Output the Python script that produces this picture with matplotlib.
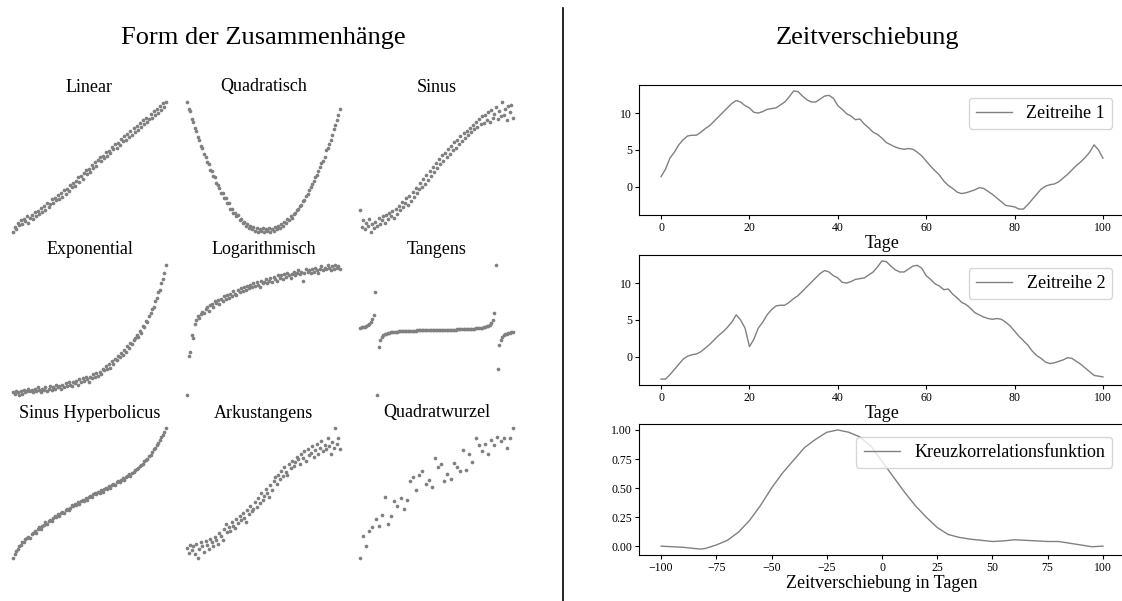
import numpy as np
import matplotlib
matplotlib.use("Agg")
import matplotlib.pyplot as plt
from matplotlib.lines import Line2D

plt.rcParams['font.family'] = ['Liberation Serif', 'DejaVu Serif']

# --- left block: shapes of relationships (y in 0..100, x = point index) ---
titel_formen = ["Linear", "Quadratisch", "Sinus",
                "Exponential", "Logarithmisch", "Tangens",
                "Sinus Hyperbolicus", "Arkustangens", "Quadratwurzel"]

linear = [1, 5, 3, 8, 6, 10, 7, 11, 9, 13, 8, 12, 14, 11, 16, 13, 17, 15, 19, 16,
          21, 18, 23, 20, 22, 26, 23, 27, 25, 29, 26, 31, 28, 33, 30, 34, 32, 37, 35, 38,
          36, 40, 43, 39, 44, 41, 46, 48, 45, 49, 47, 52, 50, 54, 51, 56, 58, 55, 59, 57,
          62, 59, 63, 61, 66, 64, 68, 65, 69, 67, 72, 70, 74, 71, 76, 73, 78, 75, 80, 77,
          82, 79, 84, 81, 86, 83, 88, 85, 87, 91, 88, 93, 90, 95, 92, 97, 94, 99, 96, 100]

quadratisch = [100, 95, 93, 87, 85, 80, 78, 73, 71, 66, 65, 60, 58, 54, 52, 48, 47, 43, 42, 38,
               36, 34, 30, 30, 26, 26, 22, 22, 18, 18, 15, 15, 12, 13, 9, 10, 7, 8, 5, 6,
               3, 5, 2, 4, 1, 3, 0, 2, 1, 3, 0, 2, 1, 3, 0, 2, 1, 4, 2, 5,
               3, 6, 5, 8, 7, 10, 9, 12, 11, 14, 15, 17, 18, 20, 21, 24, 25, 28, 29, 32,
               35, 37, 39, 42, 44, 47, 50, 53, 55, 58, 63, 65, 68, 71, 75, 79, 82, 86, 90, 95]

sinus = [17, 4, 9, 2, 7, 5, 10, 0, 6, 3, 8, 5, 11, 6, 9, 12, 7, 13, 10, 15,
         12, 16, 11, 18, 14, 20, 17, 23, 19, 22, 26, 21, 28, 24, 31, 27, 34, 30, 33, 38,
         35, 41, 37, 44, 40, 47, 43, 50, 46, 53, 49, 56, 52, 59, 55, 61, 58, 64, 60, 66,
         63, 69, 65, 71, 68, 74, 70, 76, 72, 78, 75, 80, 77, 82, 79, 85, 81, 87, 83, 89,
         84, 90, 86, 92, 85, 94, 88, 91, 96, 87, 93, 89, 100, 90, 95, 86, 97, 92, 98, 88]

exponential = [2, 1, 3, 2, 0, 3, 1, 4, 2, 3, 5, 3, 4, 2, 5, 3, 6, 4, 2, 5,
               4, 6, 3, 5, 7, 4, 6, 5, 8, 6, 7, 5, 8, 6, 9, 7, 10, 8, 7, 10,
               9, 11, 8, 12, 10, 13, 11, 14, 12, 10, 14, 13, 16, 14, 17, 15, 18, 16, 20, 19,
               22, 20, 24, 21, 26, 24, 28, 27, 30, 29, 32, 31, 35, 33, 38, 36, 40, 39, 42, 44,
               46, 45, 49, 48, 53, 52, 57, 56, 61, 63, 66, 68, 72, 75, 79, 81, 86, 89, 94, 100]

logarithmisch = [0, 30, 33, 46, 44, 55, 58, 61, 59, 62, 64, 63, 66, 68, 65, 69, 70, 68, 72, 71,
                 73, 70, 74, 72, 76, 74, 77, 75, 78, 76, 80, 78, 77, 81, 79, 82, 80, 83, 81, 84,
                 82, 85, 83, 86, 84, 87, 85, 83, 88, 86, 87, 89, 86, 88, 90, 87, 91, 89, 88, 92,
                 90, 92, 89, 93, 91, 94, 92, 90, 93, 95, 92, 94, 96, 93, 95, 88, 94, 97, 95, 96,
                 94, 97, 95, 98, 96, 94, 97, 99, 96, 98, 97, 100, 98, 96, 99, 97, 100, 98, 99, 97]

tangens = [51.6, 51.8, 52.1, 52.4, 52.9, 53.5, 54.4, 55.8, 58.0, 61.5, 79.0,
           0.0, 36.5, 42.0, 44.5, 45.8, 46.6, 47.1, 47.5, 47.8, 48.0,
           48.2, 48.4, 48.5, 48.6, 48.7, 48.8, 48.9, 49.0, 49.05, 49.1,
           49.15, 49.2, 49.25, 49.3, 49.35, 49.4, 49.45, 49.5, 49.52, 49.55,
           49.58, 49.61, 49.64, 49.67, 49.7, 49.72, 49.74, 49.76, 49.78, 49.82,
           49.84, 49.86, 49.88, 49.9, 49.93, 49.96, 49.99, 50.02, 50.05, 50.08,
           50.1, 50.15, 50.2, 50.25, 50.3, 50.35, 50.4, 50.45, 50.5, 50.55,
           50.6, 50.7, 50.8, 50.9, 51.0, 51.1, 51.2, 51.4, 51.6, 51.8,
           52.1, 52.5, 53.0, 53.8, 55.1, 57.6, 63.1, 99.6,
           20.0, 38.0, 42.5, 44.6, 45.8, 46.6, 47.1, 47.5, 47.8, 48.0, 48.2]

sinus_hyp = [2, 5, 7, 9, 11, 12, 14, 14, 16, 17, 18, 17, 20, 21, 22, 21, 24, 25, 24, 26,
             27, 29, 28, 30, 31, 30, 32, 34, 33, 35, 34, 36, 37, 36, 38, 39, 38, 40, 42, 41,
             43, 42, 44, 43, 45, 46, 45, 47, 46, 48, 49, 48, 50, 51, 50, 52, 51, 53, 52, 54,
             55, 54, 56, 55, 57, 58, 57, 59, 60, 59, 61, 62, 61, 63, 64, 65, 64, 66, 67, 68,
             69, 70, 71, 72, 73, 75, 76, 77, 79, 80, 82, 84, 85, 87, 89, 91, 93, 95, 97, 100]

arkustangens = [8, 4, 10, 6, 9, 3, 11, 0, 7, 12, 9, 5, 13, 10, 7, 15, 12, 9, 16, 14,
                11, 19, 17, 14, 22, 26, 20, 24, 21, 28, 25, 23, 30, 27, 32, 29, 35, 31, 28, 37,
                34, 40, 36, 38, 43, 39, 46, 42, 50, 45, 48, 53, 50, 47, 56, 52, 59, 62, 57, 64,
                61, 67, 63, 70, 66, 64, 72, 69, 75, 71, 74, 78, 76, 72, 80, 77, 82, 75, 84, 79,
                81, 86, 78, 83, 88, 80, 85, 90, 82, 87, 84, 92, 86, 80, 89, 85, 100, 88, 92, 84]

quadratwurzel = [0, 17, 9, 21, 24, 30, 25, 33, 47, 26, 32, 44, 40, 46, 38, 45, 59, 62, 52, 64,
                 67, 57, 60, 55, 77, 70, 72, 59, 65, 61, 73, 70, 67, 83, 68, 80, 74, 92, 87, 82,
                 88, 80, 91, 87, 93, 90, 92, 85, 92, 100]

formen = [linear, quadratisch, sinus, exponential, logarithmisch, tangens,
          sinus_hyp, arkustangens, quadratwurzel]

# --- right block: time shift ---
tage = list(range(101))
zeitreihe_1 = [1.4, 2.4, 3.9, 4.7, 5.7, 6.4, 6.9, 7.0, 7.0, 7.4,
               7.9, 8.3, 8.9, 9.5, 10.1, 10.7, 11.3, 11.7, 11.5, 11.0,
               10.7, 10.1, 10.0, 10.2, 10.5, 10.6, 10.7, 11.1, 11.5, 12.2,
               13.0, 12.9, 12.3, 11.8, 11.5, 11.5, 11.9, 12.3, 12.4, 12.0,
               11.0, 10.5, 9.9, 9.6, 9.1, 9.2, 8.5, 8.0, 7.4, 7.1,
               6.6, 6.0, 5.7, 5.4, 5.2, 5.1, 5.2, 5.1, 4.7, 4.2,
               3.5, 2.8, 2.2, 1.6, 0.8, 0.2, -0.2, -0.7, -0.9, -0.8,
               -0.6, -0.4, -0.1, -0.2, -0.6, -1.0, -1.5, -2.0, -2.5, -2.6,
               -2.7, -3.0, -3.0, -2.4, -1.7, -1.0, -0.3, 0.1, 0.3, 0.4,
               0.7, 1.2, 1.7, 2.3, 2.9, 3.4, 4.0, 4.7, 5.7, 5.0, 3.9]
zeitreihe_2 = [-3.0, -3.0, -2.4, -1.7, -1.0, -0.3, 0.1, 0.3, 0.4, 0.7,
               1.2, 1.7, 2.3, 2.9, 3.4, 4.0, 4.7, 5.7, 5.0, 3.9,
               1.4, 2.4, 3.9, 4.7, 5.7, 6.4, 6.9, 7.0, 7.0, 7.4,
               7.9, 8.3, 8.9, 9.5, 10.1, 10.7, 11.3, 11.7, 11.5, 11.0,
               10.7, 10.1, 10.0, 10.2, 10.5, 10.6, 10.7, 11.1, 11.5, 12.2,
               13.0, 12.9, 12.3, 11.8, 11.5, 11.5, 11.9, 12.3, 12.4, 12.0,
               11.0, 10.5, 9.9, 9.6, 9.1, 9.2, 8.5, 8.0, 7.4, 7.1,
               6.6, 6.0, 5.7, 5.4, 5.2, 5.1, 5.2, 5.1, 4.7, 4.2,
               3.5, 2.8, 2.2, 1.6, 0.8, 0.2, -0.2, -0.7, -0.9, -0.8,
               -0.6, -0.4, -0.1, -0.2, -0.6, -1.0, -1.5, -2.0, -2.5, -2.6, -2.7]

verschiebung = [-100, -95, -90, -85, -82, -80, -75, -70, -65, -60, -55, -50, -45, -40,
                -35, -30, -25, -20, -15, -10, -5, 0, 5, 10, 15, 20, 25, 30, 35, 40,
                45, 50, 55, 60, 65, 70, 75, 80, 85, 90, 95, 100]
kreuzkorrelation = [0.0, -0.005, -0.01, -0.02, -0.025, -0.02, 0.01, 0.05, 0.12, 0.22,
                    0.35, 0.50, 0.63, 0.74, 0.85, 0.92, 0.98, 1.00, 0.98, 0.94,
                    0.86, 0.73, 0.60, 0.47, 0.35, 0.25, 0.16, 0.10, 0.075, 0.06,
                    0.05, 0.04, 0.045, 0.055, 0.05, 0.045, 0.04, 0.04, 0.025, 0.01,
                    -0.005, 0.0]

W, H = 1122, 601
fig = plt.figure(figsize=(W / 100, H / 100), dpi=100)

# 3x3 grid of scatter panels, positions in pixels (left, top) of each axes
col_left = [5.35, 179.35, 352.35]
row_top = [95.5, 258.5, 421.5]
aw, ah = 168.3, 143.0
for k, (name, ys) in enumerate(zip(titel_formen, formen)):
    r, c = divmod(k, 3)
    ax = fig.add_axes([col_left[c] / W, 1 - (row_top[r] + ah) / H, aw / W, ah / H])
    ax.scatter(np.arange(len(ys)), ys, s=7, color='gray', linewidths=0)
    ax.set_title(name, fontsize=13, pad=2)
    ax.axis('off')

fig.text(263.5 / W, 1 - 38 / H, "Form der Zusammenhänge", fontsize=19,
         ha='center', va='center')
fig.text(867 / W, 1 - 38 / H, "Zeitverschiebung", fontsize=19,
         ha='center', va='center')

# divider
fig.add_artist(Line2D([563 / W, 563 / W], [0, 1 - 8 / H], color='black', lw=1.2))

# right axes run slightly past the figure edge, so the right spine is cut off
rl, rw = 639 / W, 486 / W
panels = [
    (85, 215, tage, zeitreihe_1, "Zeitreihe 1", "Tage"),
    (255, 385, tage, zeitreihe_2, "Zeitreihe 2", "Tage"),
    (424, 555, verschiebung, kreuzkorrelation, "Kreuzkorrelationsfunktion",
     "Zeitverschiebung in Tagen"),
]
for top, bot, xs, ys, lab, xl in panels:
    ax = fig.add_axes([rl, 1 - bot / H, rw, (bot - top) / H])
    ax.plot(xs, ys, color='gray', lw=1, label=lab)
    ax.set_xlabel(xl, fontsize=13, labelpad=1)
    ax.tick_params(labelsize=8.5, length=3, pad=2)
    ax.legend(loc='upper right', fontsize=13, borderaxespad=0.7)

fig.savefig("out.png", dpi=100)
